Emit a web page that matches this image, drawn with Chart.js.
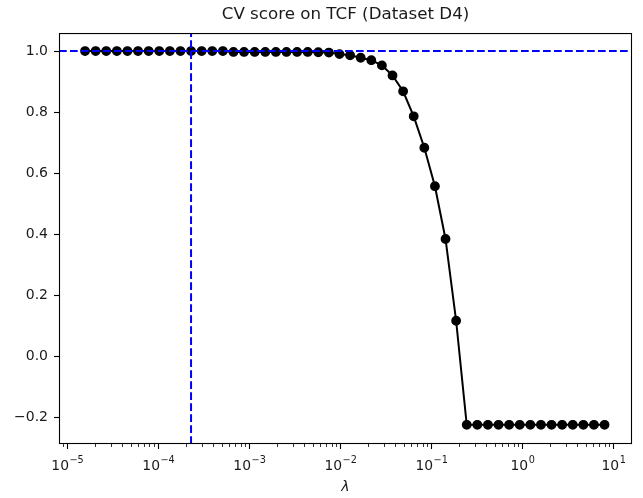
<!DOCTYPE html>
<html>
<head>
<meta charset="utf-8">
<script src="https://cdn.jsdelivr.net/npm/chart.js@4.4.1/dist/chart.umd.min.js"></script>
<style>
  html, body { margin: 0; padding: 0; background: #fff; }
  canvas { display: block; }
</style>
</head>
<body>
<canvas id="cvChart" width="643" height="498"></canvas>
<script>
// values
const lambdas = [
  1.567e-5, 2.049e-5, 2.679e-5, 3.503e-5, 4.580e-5, 5.989e-5, 7.832e-5,
  1.024e-4, 1.339e-4, 1.751e-4, 2.289e-4, 2.994e-4, 3.915e-4, 5.119e-4, 6.694e-4, 8.753e-4,
  1.145e-3, 1.497e-3, 1.957e-3, 2.559e-3, 3.347e-3, 4.376e-3, 5.723e-3, 7.482e-3, 9.784e-3,
  1.279e-2, 1.673e-2, 2.188e-2, 2.860e-2, 3.740e-2, 4.891e-2, 6.396e-2, 8.364e-2,
  0.1094, 0.1430, 0.1870, 0.2445, 0.3197, 0.4181, 0.5467, 0.7149, 0.9348,
  1.222, 1.598, 2.090, 2.733, 3.574, 4.673, 6.109, 7.990
];
const cvScores = [
  1.0, 1.0, 1.0, 1.0, 1.0, 1.0, 1.0, 1.0, 1.0, 1.0, 1.0, 1.0, 1.0, 1.0,
  0.997, 0.997, 0.997, 0.997, 0.997, 0.997, 0.997, 0.997,
  0.996, 0.995, 0.990, 0.986, 0.978, 0.970, 0.953, 0.920, 0.868,
  0.786, 0.683, 0.557, 0.384, 0.116,
  -0.225, -0.225, -0.225, -0.225, -0.225, -0.225, -0.225,
  -0.225, -0.225, -0.225, -0.225, -0.225, -0.225, -0.225
];
const bestLambda = 2.289e-4;
const bestScore = 1.0;

// x tick labels are 10^exp, drawn with a raised exponent like mathtext
const xTickValues = [1e-5, 1e-4, 1e-3, 1e-2, 1e-1, 1e0, 1e1];
const xTickExponents = ['−5', '−4', '−3', '−2', '−1', '0', '1'];
const yTickValues = [-0.2, 0.0, 0.2, 0.4, 0.6, 0.8, 1.0];
const yTickLabels = ['−0.2', '0.0', '0.2', '0.4', '0.6', '0.8', '1.0'];

// axis limits (matplotlib-style 5% margins)
const xMin = Math.pow(10, -5.091);
const xMax = Math.pow(10, 1.204);
const yMin = -0.288;
const yMax = 1.059;

// minor log ticks 2..9 x 10^k inside the range
const minorTicks = [];
for (let e = -6; e <= 1; e++) {
  for (let m = 2; m <= 9; m++) {
    const v = m * Math.pow(10, e);
    if (v > xMin && v < xMax) minorTicks.push(v);
  }
}

const FONT = 'DejaVu Sans';
Chart.defaults.font.family = FONT;
Chart.defaults.color = '#000';

// full box around the axes, short minor ticks, and the 10^n labels
const axesFrame = {
  id: 'axesFrame',
  afterDraw(chart) {
    const { ctx, chartArea: a, scales: { x } } = chart;
    ctx.save();
    ctx.strokeStyle = '#000';
    ctx.lineWidth = 0.8;
    minorTicks.forEach(v => {
      const px = Math.round(x.getPixelForValue(v)) + 0.5;
      ctx.beginPath();
      ctx.moveTo(px, a.bottom);
      ctx.lineTo(px, a.bottom + 3);
      ctx.stroke();
    });
    ctx.lineWidth = 1.1;
    ctx.strokeRect(a.left + 0.5, a.top + 0.5, a.right - a.left - 1, a.bottom - a.top - 1);

    ctx.fillStyle = '#1a1a1a';
    ctx.textBaseline = 'alphabetic';
    ctx.textAlign = 'left';
    const baseY = a.bottom + 26;
    xTickValues.forEach((v, i) => {
      const px = x.getPixelForValue(v);
      ctx.font = '13.9px "' + FONT + '"';
      const wBase = ctx.measureText('10').width;
      ctx.font = '9.7px "' + FONT + '"';
      const wExp = ctx.measureText(xTickExponents[i]).width;
      const left = px - (wBase + wExp) / 2;
      ctx.font = '13.9px "' + FONT + '"';
      ctx.fillText('10', left, baseY);
      ctx.font = '9.7px "' + FONT + '"';
      ctx.fillText(xTickExponents[i], left + wBase + 0.5, baseY - 7.5);
    });
    ctx.restore();
  }
};

const dashed = [7.7, 3.3];

new Chart(document.getElementById('cvChart'), {
  type: 'line',
  data: {
    datasets: [
      {
        data: [{ x: xMin, y: bestScore }, { x: xMax, y: bestScore }],
        borderColor: '#0000ff',
        borderWidth: 2,
        borderDash: dashed,
        pointRadius: 0,
        order: 0
      },
      {
        data: [{ x: bestLambda, y: yMin }, { x: bestLambda, y: yMax }],
        borderColor: '#0000ff',
        borderWidth: 2,
        borderDash: dashed,
        pointRadius: 0,
        order: 1
      },
      {
        data: lambdas.map((l, i) => ({ x: l, y: cvScores[i] })),
        borderColor: '#000',
        borderWidth: 2,
        tension: 0,
        pointRadius: 4.2,
        pointBackgroundColor: '#000',
        pointBorderColor: '#000',
        pointBorderWidth: 1.4,
        order: 2
      }
    ]
  },
  options: {
    responsive: false,
    animation: false,
    layout: { padding: { top: 0, right: 11, bottom: 0, left: 0 } },
    scales: {
      x: {
        type: 'logarithmic',
        min: xMin,
        max: xMax,
        afterBuildTicks: s => { s.ticks = xTickValues.map(v => ({ value: v })); },
        afterFit: s => { s.height = 54; },
        border: { display: false },
        grid: { drawOnChartArea: false, tickLength: 5, tickColor: '#000', tickWidth: 1.1 },
        ticks: {
          autoSkip: false,
          maxRotation: 0,
          font: { size: 14 },
          callback: () => ''
        },
        title: {
          display: true,
          text: 'λ',
          color: '#1a1a1a',
          font: { size: 14, style: 'italic' },
          padding: { top: 0, bottom: 2.5 }
        }
      },
      y: {
        type: 'linear',
        min: yMin,
        max: yMax,
        afterBuildTicks: s => { s.ticks = yTickValues.map(v => ({ value: v })); },
        afterFit: s => { s.width = 59; },
        border: { display: false },
        grid: { drawOnChartArea: false, tickLength: 5, tickColor: '#000', tickWidth: 1.1 },
        ticks: {
          padding: 6,
          color: '#1a1a1a',
          font: { size: 14 },
          callback: (v, i) => yTickLabels[i]
        }
      }
    },
    plugins: {
      legend: { display: false },
      tooltip: { enabled: false },
      title: {
        display: true,
        text: 'CV score on TCF (Dataset D4)',
        fullSize: false,
        color: '#1a1a1a',
        font: { size: 16.7, weight: 'normal' },
        padding: { top: 5, bottom: 8 }
      }
    }
  },
  plugins: [axesFrame]
});
</script>
</body>
</html>
